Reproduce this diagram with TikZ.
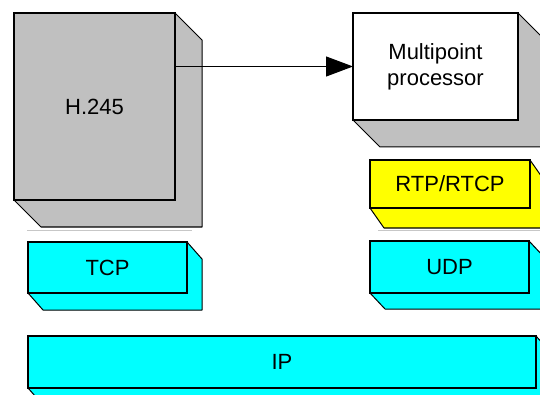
\documentclass[tikz,border=0pt]{standalone}
\usepackage{fontspec}
\setmainfont{Liberation Sans}
\usetikzlibrary{arrows.meta,backgrounds}
\definecolor{color1}{HTML}{C0C0C0}
\definecolor{color2}{HTML}{00FFFF}
\definecolor{color3}{HTML}{FFFF00}
\begin{document}
\begin{tikzpicture}[x=1pt,y=-1pt,
  face/.style={draw=black,line width=1.8pt,inner sep=0pt,outer sep=0pt,align=center,font=\fontsize{22}{26}\selectfont},
  side/.style={draw=black,line width=1pt,line join=round}]
\useasboundingbox (0,0) rectangle (540,395);
\clip (0,0) rectangle (540,395);

% front faces
\node[face,fill=color1,minimum width=161pt,minimum height=187pt] (h245) at (94.5,106.5) {H.245};
\node[face,fill=white,minimum width=165pt,minimum height=107pt] (mpp) at (435.5,66.5) {Multipoint\\processor};
\node[face,fill=color3,minimum width=160pt,minimum height=48pt] (rtp) at (450,184) {RTP/RTCP};
\node[face,fill=color2,minimum width=159pt,minimum height=51pt] (tcp) at (107.5,267.5) {TCP};
\node[face,fill=color2,minimum width=159pt,minimum height=52pt] (udp) at (449.5,267) {UDP};
\node[face,fill=color2,minimum width=508pt,minimum height=52pt] (ip) at (282,362) {IP};

% depth faces
\begin{scope}[on background layer]
\fill[side,fill=color1] (h245.north east) -- ([shift={(27,27)}]h245.north east) -- ([shift={(27,27)}]h245.south east) -- ([shift={(27,27)}]h245.south west) -- (h245.south west) -- cycle;
\fill[side,fill=color1] (mpp.north east) -- ([shift={(27,27)}]mpp.north east) -- ([shift={(27,27)}]mpp.south east) -- ([shift={(27,27)}]mpp.south west) -- (mpp.south west) -- cycle;
\fill[side,fill=color3] (rtp.north east) -- ([shift={(14,20)}]rtp.north east) -- ([shift={(14,20)}]rtp.south east) -- ([shift={(14,20)}]rtp.south west) -- (rtp.south west) -- cycle;
\fill[side,fill=color2] (tcp.north east) -- ([shift={(15,17)}]tcp.north east) -- ([shift={(15,17)}]tcp.south east) -- ([shift={(15,17)}]tcp.south west) -- (tcp.south west) -- cycle;
\fill[side,fill=color2] (udp.north east) -- ([shift={(15,16)}]udp.north east) -- ([shift={(15,16)}]udp.south east) -- ([shift={(15,16)}]udp.south west) -- (udp.south west) -- cycle;
\fill[side,fill=color2] (ip.north east) -- ([shift={(15,17)}]ip.north east) -- ([shift={(15,17)}]ip.south east) -- ([shift={(15,17)}]ip.south west) -- (ip.south west) -- cycle;
\end{scope}

% faint shadow lines
\draw[black!22,line width=1pt] (27,230) -- (192,230);
\draw[black!22,line width=1pt] (378,230) -- (540,230);

\draw[line width=1pt,-{Triangle[length=27pt,width=20pt]}] (h245.east |- mpp.west) -- (mpp.west);
\end{tikzpicture}
\end{document}
